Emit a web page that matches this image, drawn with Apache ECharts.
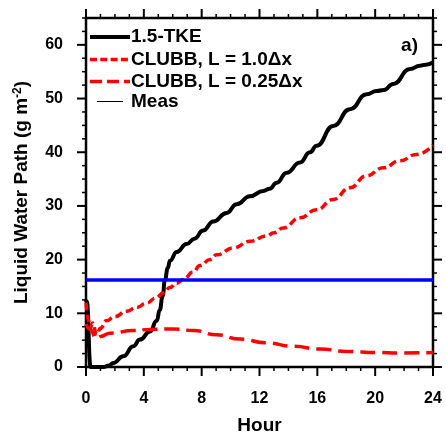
<!DOCTYPE html>
<html>
<head>
<meta charset="utf-8">
<script src="https://cdn.jsdelivr.net/npm/echarts@6/dist/echarts.min.js"></script>
<style>
html,body{margin:0;padding:0;background:#fff;}
#chart{width:446px;height:443px;}
</style>
</head>
<body>
<div id="chart"></div>
<script>
// ---- data ----
const seriesNames = ['1.5-TKE', 'CLUBB, L = 1.0\u0394x', 'CLUBB, L = 0.25\u0394x', 'Meas'];

const tkeHours = [0, 0.05, 0.32, 1.2, 1.6, 1.89, 2.58, 3.27, 3.73, 4.43, 4.89, 5.1, 5.3, 5.46, 5.65, 5.81, 6.27, 6.96, 7.5, 8.1, 8.8, 9.73, 10.42, 11.34, 12.26, 12.7, 13.19, 13.88, 14.8, 15.49, 15.95, 17.1, 18.26, 19.41, 20.1, 20.6, 21.25, 22.41, 23.1, 23.5, 24];
const tkeLwp   = [12.5, 12.2, 0, 0, 0.3, 0.75, 2.0, 3.85, 5.1, 6.6, 8.6, 10.6, 13.2, 16.2, 18.4, 19.8, 21.4, 22.9, 23.9, 25.4, 27.1, 28.7, 30.3, 31.8, 32.8, 33.2, 34.3, 36.2, 38.1, 40.0, 41.2, 44.9, 48.0, 50.8, 51.4, 51.6, 52.7, 55.5, 56.1, 56.3, 56.8];

const clubb10Hours = [0, 0.2, 0.3, 0.45, 0.75, 1.0, 1.4, 2.0, 2.8, 3.5, 4.2, 4.8, 5.35, 5.8, 6.27, 6.73, 7.42, 7.88, 8.58, 9.04, 10.19, 11.34, 12.49, 13.0, 13.64, 14.8, 15.95, 17.1, 18.26, 19.4, 20.56, 21.7, 22.87, 24];
const clubb10Lwp   = [12.0, 8.5, 7.3, 8.2, 6.0, 7.2, 8.6, 9.4, 10.4, 11.1, 11.9, 12.8, 13.8, 14.8, 15.6, 16.3, 17.7, 18.9, 20.0, 20.9, 22.2, 23.4, 24.4, 25.0, 25.9, 27.8, 29.3, 31.2, 33.4, 35.6, 37.1, 38.4, 39.6, 41.3];

const clubb025Hours = [0, 0.3, 0.7, 1.0, 1.66, 3.27, 4.43, 6.04, 7.42, 9.04, 10.65, 12.49, 14.33, 16.18, 18.03, 20.1, 21.7, 24];
const clubb025Lwp   = [8.0, 7.0, 5.3, 5.7, 6.3, 6.8, 7.0, 7.1, 6.8, 6.0, 5.2, 4.5, 3.85, 3.35, 2.9, 2.7, 2.6, 2.7];

const measHours = [0, 24];
const measLwp   = [16.2, 16.2];

const xRange = [0, 24];
const yRange = [0, 65];
const xMajorTicks = [0, 4, 8, 12, 16, 20, 24];
const xMinorTicks = [1, 2, 3, 5, 6, 7, 9, 10, 11, 13, 14, 15, 17, 18, 19, 21, 22, 23];
const yMajorTicks = [0, 10, 20, 30, 40, 50, 60];
const yMinorTicks = [2.5, 5, 7.5, 12.5, 15, 17.5, 22.5, 25, 27.5, 32.5, 35, 37.5, 42.5, 45, 47.5, 52.5, 55, 57.5, 62.5, 65];

// ---- helpers ----
const pairs = (xs, ys) => xs.map((x, i) => [x, ys[i]]);
const FONT = "'Liberation Sans', Arial, Helvetica, sans-serif";
const mkLabel = (margin) => ({margin: margin, fontFamily: FONT, fontWeight: 'bold', fontSize: 16, color: '#000'});

// frame tick marks (outward on all four sides), positioned through the axes' scales
function tickSeries(values, dim, len, width) {
  return {
    type: 'custom', silent: true, z: 5, clip: false, xAxisIndex: 0, yAxisIndex: 0,
    data: values.map(v => (dim === 'x' ? [v, yRange[0]] : [xRange[0], v])),
    renderItem: function (params, api) {
      const st = {stroke: '#000', lineWidth: width};
      if (dim === 'x') {
        const v = api.value(0);
        const b = api.coord([v, yRange[0]]);
        const t = api.coord([v, yRange[1]]);
        return {type: 'group', children: [
          {type: 'line', shape: {x1: b[0], y1: b[1], x2: b[0], y2: b[1] + len}, style: st},
          {type: 'line', shape: {x1: t[0], y1: t[1], x2: t[0], y2: t[1] - len}, style: st}
        ]};
      }
      const v = api.value(1);
      const l = api.coord([xRange[0], v]);
      const r = api.coord([xRange[1], v]);
      return {type: 'group', children: [
        {type: 'line', shape: {x1: l[0], y1: l[1], x2: l[0] - len, y2: l[1]}, style: st},
        {type: 'line', shape: {x1: r[0], y1: r[1], x2: r[0] + len, y2: r[1]}, style: st}
      ]};
    }
  };
}

const option = {
  animation: false,
  grid: {left: 86, right: 13, top: 18, bottom: 76, show: true,
         borderColor: '#000', borderWidth: 2.5, backgroundColor: 'transparent'},
  xAxis: {
    type: 'value', min: xRange[0], max: xRange[1], interval: 4,
    axisLine: {show: false}, axisTick: {show: false}, splitLine: {show: false},
    axisLabel: mkLabel(24),
    name: 'Hour', nameLocation: 'middle', nameGap: 49,
    nameTextStyle: {fontFamily: FONT, fontWeight: 'bold', fontSize: 19, color: '#000'}
  },
  yAxis: {
    type: 'value', min: yRange[0], max: yRange[1], interval: 10,
    axisLine: {show: false}, axisTick: {show: false}, splitLine: {show: false},
    axisLabel: Object.assign(mkLabel(23), {formatter: v => (v % 10 === 0 ? String(v) : '')}),
    name: 'Liquid Water Path (g m{sup|-2})', nameLocation: 'middle', nameGap: 55, nameRotate: 90,
    nameTextStyle: {
      fontFamily: FONT, fontWeight: 'bold', fontSize: 19, color: '#000',
      rich: {sup: {fontFamily: FONT, fontWeight: 'bold', fontSize: 12, color: '#000', verticalAlign: 'top'}}
    }
  },
  series: [
    {
      name: seriesNames[0], type: 'line',
      data: pairs(tkeHours, tkeLwp), symbol: 'none', smooth: 0.5, smoothMonotone: 'x',
      lineStyle: {color: '#000', width: 4}
    },
    {
      name: seriesNames[1], type: 'line',
      data: pairs(clubb10Hours, clubb10Lwp), symbol: 'none', smooth: 0.5, smoothMonotone: 'x',
      lineStyle: {color: '#ff0000', width: 3.5, type: [8, 4]}
    },
    {
      name: seriesNames[2], type: 'line',
      data: pairs(clubb025Hours, clubb025Lwp), symbol: 'none', smooth: 0.5, smoothMonotone: 'x',
      lineStyle: {color: '#ff0000', width: 3.5, type: [15, 7]}
    },
    {
      name: seriesNames[3], type: 'line',
      data: pairs(measHours, measLwp), symbol: 'none',
      lineStyle: {color: '#0000ff', width: 3.5}
    },
    tickSeries(xMajorTicks, 'x', 9, 2),
    tickSeries(xMinorTicks, 'x', 4, 1.5),
    tickSeries(yMajorTicks, 'y', 9, 2),
    tickSeries(yMinorTicks, 'y', 4, 1.5)
  ],
  graphic: []
};

// legend drawn as graphic elements
const legendRows = [
  {y: 37, name: seriesNames[0], x1: 90, x2: 130, stroke: '#000', w: 4},
  {y: 59.5, name: seriesNames[1], x1: 90, x2: 130, stroke: '#ff0000', w: 3.5, dash: [7, 3.3]},
  {y: 81.5, name: seriesNames[2], x1: 90, x2: 130, stroke: '#ff0000', w: 3.5, dash: [12, 5]},
  {y: 101.5, name: seriesNames[3], x1: 97, x2: 123, stroke: '#000', w: 1}
];
legendRows.forEach(r => {
  const st = {stroke: r.stroke, lineWidth: r.w};
  if (r.dash) st.lineDash = r.dash;
  option.graphic.push({
    type: 'line', silent: true, z: 100,
    shape: {x1: r.x1, y1: r.y, x2: r.x2, y2: r.y}, style: st
  });
  option.graphic.push({
    type: 'text', silent: true, z: 100, x: 131, y: r.y,
    style: {text: r.name, fontFamily: FONT, fontWeight: 'bold', fontSize: 19, fill: '#000',
            textAlign: 'left', textVerticalAlign: 'middle'}
  });
});
option.graphic.push({
  type: 'text', silent: true, z: 100, x: 418, y: 45.5,
  style: {text: 'a)', fontFamily: FONT, fontWeight: 'bold', fontSize: 19, fill: '#000',
          textAlign: 'right', textVerticalAlign: 'middle'}
});

echarts.init(document.getElementById('chart')).setOption(option);
</script>
</body>
</html>
